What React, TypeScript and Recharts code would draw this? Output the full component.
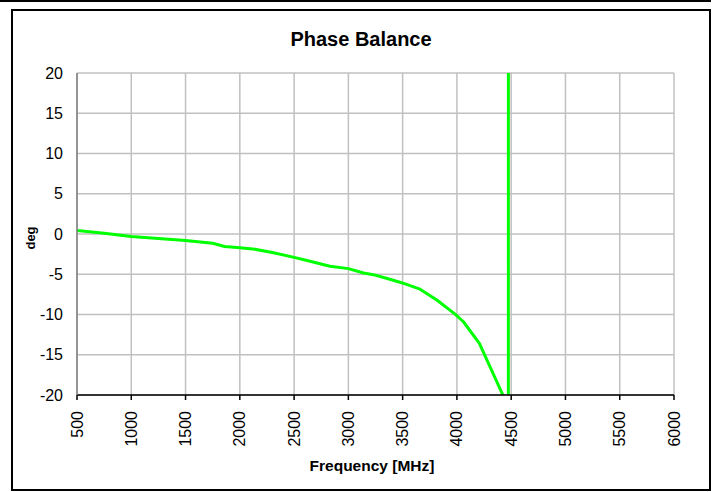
import { LineChart, Line, XAxis, YAxis, CartesianGrid } from "recharts";

// frequency [MHz] and phase balance [deg]
const freqMHz = [
  500, 750, 1000, 1250, 1500, 1750, 1860, 2000, 2120, 2300, 2500, 2620, 2830,
  3000, 3140, 3230, 3350, 3490, 3660, 3815, 3983, 4060, 4207, 4474, 4476, 4700,
  5000, 5500, 6000,
];
const phaseDeg = [
  0.45, 0.1, -0.3, -0.55, -0.8, -1.15, -1.55, -1.7, -1.85, -2.3, -2.9, -3.3,
  -4.0, -4.3, -4.85, -5.05, -5.5, -6.05, -6.85, -8.2, -9.95, -10.9, -13.6,
  -21.5, 338, 330, 322, 310, 298,
];
const xTicks = [500, 1000, 1500, 2000, 2500, 3000, 3500, 4000, 4500, 5000, 5500, 6000];
const yTicks = [-20, -15, -10, -5, 0, 5, 10, 15, 20];

const data = freqMHz.map((f, i) => ({ freq: f, phase: phaseDeg[i] }));

const FONT = '"Liberation Sans", Arial, sans-serif';

const XTick = ({ x, y, payload }: any) => (
  <text
    transform={`translate(${x},${y + 9}) rotate(-90)`}
    textAnchor="end"
    dominantBaseline="central"
    fill="#000"
    fontSize={16}
    fontFamily={FONT}
  >
    {payload.value}
  </text>
);

export default function App() {
  return (
    <div
      style={{
        position: "absolute",
        left: 0,
        top: 0,
        width: 714,
        height: 492,
        background: "#fff",
        fontFamily: FONT,
        overflow: "hidden",
      }}
    >
      <div style={{ position: "absolute", left: 0, top: 0, width: 711, height: 2, background: "#000" }} />
      <div
        style={{
          position: "absolute",
          left: 11,
          top: 9,
          width: 696,
          height: 478,
          border: "2px solid #000",
        }}
      />
      <LineChart
        width={714}
        height={492}
        data={data}
        margin={{ top: 73, right: 40, bottom: 0, left: 0 }}
      >
        <CartesianGrid stroke="#c0c0c0" strokeWidth={1.5} />
        <XAxis
          dataKey="freq"
          type="number"
          domain={[500, 6000]}
          ticks={xTicks}
          allowDataOverflow
          height={97}
          stroke="#000"
          strokeWidth={1.5}
          tickSize={5}
          tick={<XTick />}
        />
        <YAxis
          type="number"
          domain={[-20, 20]}
          ticks={yTicks}
          allowDataOverflow
          width={77}
          stroke="#808080"
          strokeWidth={1.5}
          tickLine={false}
          tickSize={0}
          tickMargin={14}
          tick={{ fill: "#000", fontSize: 16, fontFamily: FONT }}
        />
        <Line
          type="linear"
          dataKey="phase"
          stroke="#00ff00"
          strokeWidth={3}
          strokeLinejoin="round"
          dot={false}
          isAnimationActive={false}
        />
      </LineChart>
      <div
        style={{
          position: "absolute",
          left: 361,
          top: 39,
          transform: "translate(-50%, -50%)",
          fontSize: 20,
          fontWeight: "bold",
          whiteSpace: "nowrap",
        }}
      >
        Phase Balance
      </div>
      <div
        style={{
          position: "absolute",
          left: 372,
          top: 466,
          transform: "translate(-50%, -50%)",
          fontSize: 15.5,
          fontWeight: "bold",
          whiteSpace: "nowrap",
        }}
      >
        Frequency [MHz]
      </div>
      <div
        style={{
          position: "absolute",
          left: 30,
          top: 238,
          transform: "translate(-50%, -50%) rotate(-90deg)",
          fontSize: 13,
          fontWeight: "bold",
          whiteSpace: "nowrap",
        }}
      >
        deg
      </div>
    </div>
  );
}
